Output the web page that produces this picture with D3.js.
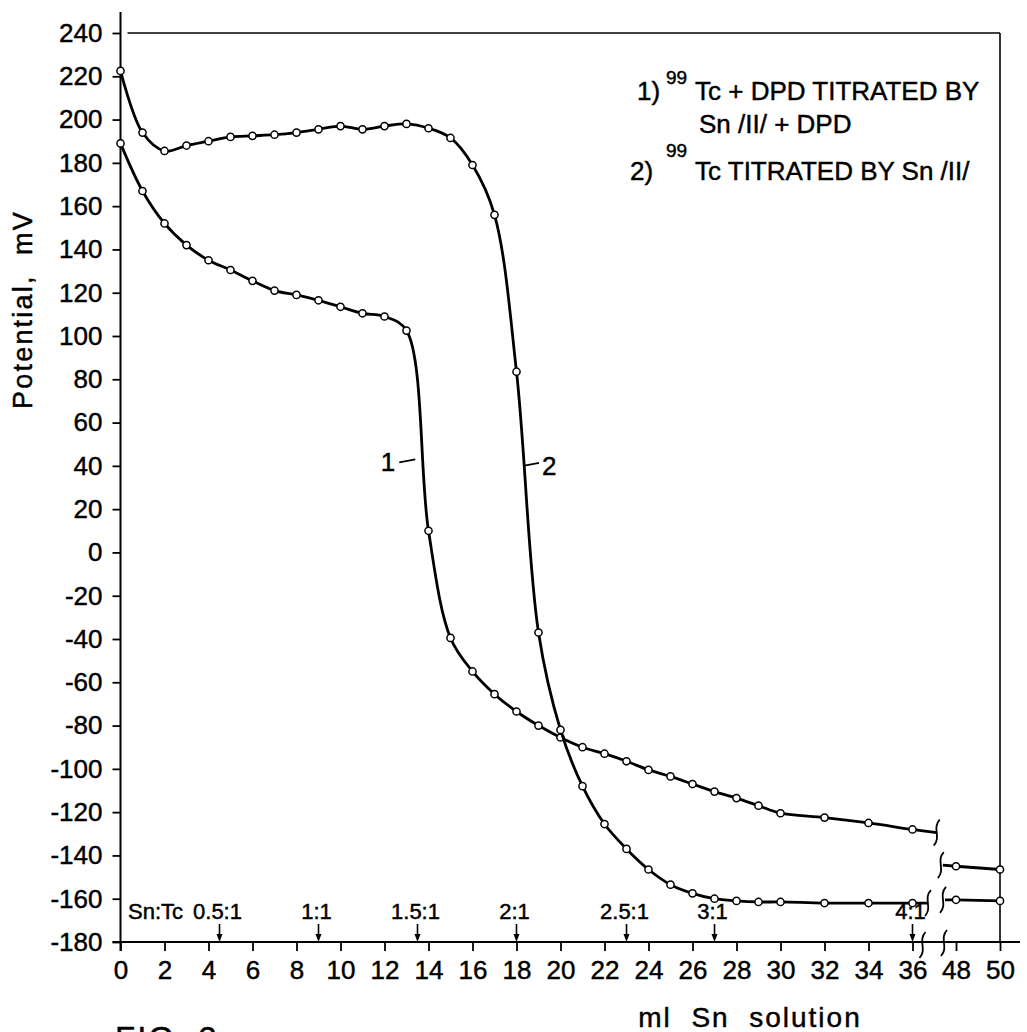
<!DOCTYPE html>
<html>
<head>
<meta charset="utf-8">
<script src="https://cdn.jsdelivr.net/npm/d3@7"></script>
<style>
  html, body { margin: 0; padding: 0; background: #fff; }
  svg { display: block; }
  text { font-family: "Liberation Sans", Arial, sans-serif; fill: #000; stroke: #000; stroke-width: 0.45px; }
</style>
</head>
<body>
<svg id="chart" width="1027" height="1032"></svg>
<script>
// Titration volumes (ml Sn solution)
const mlMain = [0,1,2,3,4,5,6,7,8,9,10,11,12,13,14,15,16,17,18,19,20,21,22,23,24,25,26,27,28,29,30,32,34,36];
const mlTail = [48, 50];

// Curve 1: 99Tc + DPD titrated by Sn(II) + DPD  (mV)
const curve1Main = [189,167,152,142,135,130.5,125.5,121,119,116.5,113.5,110.5,109,102.5,10,-39.5,-55,-65.5,-73.5,-80,-85.5,-90,-93,-96.5,-100.5,-103.5,-107,-110.5,-113.5,-117,-120.5,-122.5,-125,-128];
const curve1Tail = [-145, -146.5];

// Curve 2: 99Tc titrated by Sn(II)  (mV)
const curve2Main = [222.5,194,185.5,188,190,192,192.5,193,194,195.5,197,195.5,197,198,196,191.5,179,156,83.5,-37,-82,-108,-125.5,-137,-146.5,-153.5,-157.5,-160,-161,-161.5,-161.5,-162,-162,-162];
const curve2Tail = [-160.5, -161];

// Where each curve is cut by the axis break: [ml, mV] at the end of the left part and start of the right part
const curve1Break = [[37.1, -129.5], [47.4, -144.5]];
const curve2Break = [[36.7, -162], [47.5, -160.5]];

// Axis ticks
const yTicks = [-180,-160,-140,-120,-100,-80,-60,-40,-20,0,20,40,60,80,100,120,140,160,180,200,220,240];
const xTicksMain = [0,2,4,6,8,10,12,14,16,18,20,22,24,26,28,30,32,34,36];
const xTicksTail = [48, 50];

// Sn:Tc molar ratio marks along the volume axis
const ratioLabels = ["0.5:1","1:1","1.5:1","2:1","2.5:1","3:1","4:1"];
const ratioMl = [4.5, 9, 13.5, 18, 23, 27, 36];

const svg = d3.select("#chart");

// Broken x axis: 0–36 ml, then 48–50 ml
const xMain = d3.scaleLinear().domain([0, 36]).range([120.5, 912.5]);
const xTail = d3.scaleLinear().domain([48, 50]).range([956, 1000]);
const x = v => (v < 42 ? xMain(v) : xTail(v));
const y = d3.scaleLinear().domain([-180, 240]).range([942, 33]);

const x0 = xMain(0), yBase = y(-180), yTop = y(240), xRight = xTail(50);

// Frame: top and right borders
svg.append("line").attr("x1", x0 + 7).attr("x2", xRight).attr("y1", yTop).attr("y2", yTop)
  .attr("stroke", "#000").attr("stroke-width", 1.6);
svg.append("line").attr("x1", xRight).attr("x2", xRight).attr("y1", yTop).attr("y2", yBase)
  .attr("stroke", "#000").attr("stroke-width", 1.6);

// Y axis
const yAxis = d3.axisLeft(y).tickValues(yTicks).tickSize(8).tickPadding(10).tickFormat(d => String(d));
const gy = svg.append("g").attr("transform", `translate(${x0},0)`).call(yAxis);
gy.select(".domain").remove();
gy.selectAll(".tick line").attr("stroke", "#000").attr("stroke-width", 1.8);
gy.selectAll(".tick text").attr("font-size", 26).attr("fill", "#000").attr("font-family", null);
svg.append("line").attr("x1", x0).attr("x2", x0).attr("y1", 12).attr("y2", yBase + 9)
  .attr("stroke", "#000").attr("stroke-width", 2);

// X axis (two pieces)
function styleX(g) {
  g.select(".domain").remove();
  g.selectAll(".tick line").attr("stroke", "#000").attr("stroke-width", 1.8);
  g.selectAll(".tick text").attr("font-size", 26).attr("fill", "#000").attr("font-family", null);
}
svg.append("g").attr("transform", `translate(0,${yBase})`)
  .call(d3.axisBottom(xMain).tickValues(xTicksMain).tickSize(9).tickPadding(10).tickFormat(d => String(d)))
  .call(styleX);
svg.append("g").attr("transform", `translate(0,${yBase})`)
  .call(d3.axisBottom(xTail).tickValues(xTicksTail).tickSize(9).tickPadding(10).tickFormat(d => String(d)))
  .call(styleX);
svg.append("line").attr("x1", x0 - 8).attr("x2", 1020).attr("y1", yBase).attr("y2", yBase)
  .attr("stroke", "#000").attr("stroke-width", 2);

// Break marks
function squiggle(cx, cy, h) {
  const p = d3.path();
  p.moveTo(cx + 3, cy - h / 2);
  p.bezierCurveTo(cx - 5, cy - h / 6, cx + 5, cy + h / 6, cx - 3, cy + h / 2);
  return p.toString();
}
const breakG = svg.append("g").attr("fill", "none").attr("stroke", "#000").attr("stroke-width", 1.8);
breakG.append("path").attr("d", squiggle(xMain(36) + 10, yBase + 3, 26));
breakG.append("path").attr("d", squiggle(xTail(48) - 12, yBase + 1, 26));

// Axis titles
svg.append("text")
  .attr("transform", `translate(32,${(yTop + yBase) / 2 - 178}) rotate(-90)`)
  .attr("text-anchor", "middle").attr("font-size", 27).attr("letter-spacing", 2.2)
  .style("white-space", "pre")
  .text("Potential,  mV");
svg.append("text").attr("x", 750).attr("y", 1027).attr("text-anchor", "middle")
  .attr("font-size", 28).attr("letter-spacing", 2).style("white-space", "pre")
  .text("ml  Sn  solution");
svg.append("text").attr("x", 115).attr("y", 1050).attr("font-size", 33).attr("letter-spacing", 2)
  .text("FIG. 2");

// Ratio markers
svg.append("text").attr("x", 128).attr("y", 919).attr("font-size", 22).text("Sn:Tc");
const ratioG = svg.append("g");
ratioLabels.forEach((lab, i) => {
  const cx = xMain(ratioMl[i]);
  ratioG.append("text").attr("x", cx - 2).attr("y", 919).attr("text-anchor", "middle")
    .attr("font-size", 22).text(lab);
  ratioG.append("line").attr("x1", cx).attr("x2", cx).attr("y1", yBase - 18).attr("y2", yBase - 4)
    .attr("stroke", "#000").attr("stroke-width", 1.6);
  ratioG.append("path")
    .attr("d", `M${cx - 3},${yBase - 8} L${cx + 3},${yBase - 8} L${cx},${yBase} Z`)
    .attr("fill", "#000");
});

// Curves
const line = d3.line().x(d => x(d[0])).y(d => y(d[1])).curve(d3.curveCatmullRom.alpha(0.5));
const lineStraight = d3.line().x(d => x(d[0])).y(d => y(d[1]));

function drawCurve(mainVals, tailVals, brk) {
  const main = mlMain.map((m, i) => [m, mainVals[i]]);
  const tail = mlTail.map((m, i) => [m, tailVals[i]]);
  const g = svg.append("g");
  g.append("path").attr("d", line(main.concat([brk[0]])))
    .attr("fill", "none").attr("stroke", "#000").attr("stroke-width", 2.8);
  g.append("path").attr("d", lineStraight([brk[1]].concat(tail)))
    .attr("fill", "none").attr("stroke", "#000").attr("stroke-width", 2.8);
  // break squiggles at the cut ends
  g.append("path").attr("d", squiggle(x(brk[0][0]), y(brk[0][1]), 26))
    .attr("fill", "none").attr("stroke", "#000").attr("stroke-width", 1.8);
  g.append("path").attr("d", squiggle(x(brk[1][0]) - 2, y(brk[1][1]), 26))
    .attr("fill", "none").attr("stroke", "#000").attr("stroke-width", 1.8);
  g.selectAll("circle").data(main.concat(tail)).join("circle")
    .attr("cx", d => x(d[0])).attr("cy", d => y(d[1])).attr("r", 3.6)
    .attr("fill", "#fff").attr("stroke", "#000").attr("stroke-width", 1.5);
}
drawCurve(curve1Main, curve1Tail, curve1Break);
drawCurve(curve2Main, curve2Tail, curve2Break);

// Curve number labels with leader lines
const lab1 = [[13.4, 43]], lab2 = [[18.3, 40]];
const c1x = xMain(lab1[0][0]), c1y = y(lab1[0][1]);
svg.append("line").attr("x1", c1x - 16).attr("y1", c1y + 3).attr("x2", c1x).attr("y2", c1y)
  .attr("stroke", "#000").attr("stroke-width", 1.6);
svg.append("text").attr("x", c1x - 20).attr("y", c1y + 12).attr("text-anchor", "end")
  .attr("font-size", 26).text("1");
const c2x = xMain(lab2[0][0]), c2y = y(lab2[0][1]);
svg.append("line").attr("x1", c2x).attr("y1", c2y).attr("x2", c2x + 16).attr("y2", c2y - 3)
  .attr("stroke", "#000").attr("stroke-width", 1.6);
svg.append("text").attr("x", c2x + 19).attr("y", c2y + 9).attr("font-size", 26).text("2");

// Legend
const leg = svg.append("g").attr("font-size", 26).style("white-space", "pre");
leg.append("text").attr("x", 637).attr("y", 100).text("1)");
leg.append("text").attr("x", 666).attr("y", 84).attr("font-size", 19).text("99");
leg.append("text").attr("x", 695).attr("y", 100).text("Tc + DPD TITRATED  BY");
leg.append("text").attr("x", 699).attr("y", 133).text("Sn  /II/ + DPD");
leg.append("text").attr("x", 630).attr("y", 180).text("2)");
leg.append("text").attr("x", 666).attr("y", 157).attr("font-size", 19).text("99");
leg.append("text").attr("x", 695).attr("y", 180).text("Tc  TITRATED  BY Sn /II/");
</script>
</body>
</html>
